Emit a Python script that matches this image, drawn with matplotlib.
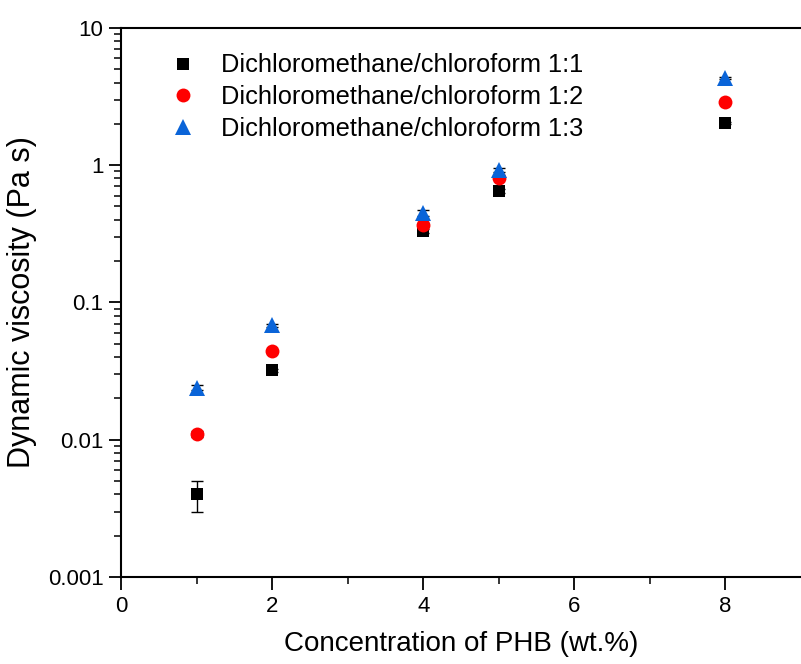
import matplotlib

matplotlib.use("Agg")
import matplotlib.pyplot as plt
from matplotlib.ticker import FixedLocator, LogLocator, NullFormatter

plt.rcParams["font.family"] = ["Liberation Sans", "DejaVu Sans"]

# data
conc = [1, 2, 4, 5, 8]
visc_11 = [0.004, 0.032, 0.332, 0.649, 2.03]
visc_12 = [0.011, 0.044, 0.367, 0.807, 2.89]
visc_13 = [0.024, 0.068, 0.449, 0.923, 4.32]
err_11 = [0.001, 0.001, 0.01, 0.02, 0.05]
err_12 = [0.0005, 0.001, 0.01, 0.02, 0.05]
err_13 = [0.001, 0.002, 0.02, 0.03, 0.08]
labels = [
    "Dichloromethane/chloroform 1:1",
    "Dichloromethane/chloroform 1:2",
    "Dichloromethane/chloroform 1:3",
]

fig = plt.figure(figsize=(8.01, 6.64), dpi=100)
ax = fig.add_axes([0.151, 0.131, 0.849, 0.827])

series = [
    (visc_11, err_11, "s", "black", 9),
    (visc_12, err_12, "o", "#ff0000", 10),
    (visc_13, err_13, "^", "#0a64d8", 11),
]
for (vals, errs, mk, col, ms), lab in zip(series, labels):
    ax.errorbar(
        conc, vals, yerr=errs, fmt="none", ecolor="black",
        elinewidth=1, capsize=4, capthick=1, zorder=2,
    )
    ax.plot(conc, vals, mk, color=col, markersize=ms,
            markeredgewidth=0, label=lab, zorder=3)

ax.set_yscale("log")
ax.set_xlim(0, 9)
ax.set_ylim(0.001, 10)

ax.xaxis.set_major_locator(FixedLocator([0, 2, 4, 6, 8]))
ax.xaxis.set_minor_locator(FixedLocator([1, 3, 5, 7]))
ax.yaxis.set_major_locator(FixedLocator([0.001, 0.01, 0.1, 1, 10]))
ax.yaxis.set_minor_locator(LogLocator(base=10, subs=range(2, 10), numticks=20))
ax.yaxis.set_minor_formatter(NullFormatter())
ax.set_yticklabels(["0.001", "0.01", "0.1", "1", "10"])

ax.tick_params(which="major", direction="out", length=9, width=1.3, labelsize=16)
ax.tick_params(which="minor", direction="out", length=5, width=1.1)
ax.tick_params(axis="x", pad=5)

for side in ["left", "bottom", "top"]:
    ax.spines[side].set_linewidth(1.5)
ax.spines["right"].set_visible(False)

ax.set_xlabel("Concentration of PHB (wt.%)", fontsize=20, labelpad=10)
ax.set_ylabel("Dynamic viscosity (Pa s)", fontsize=22, labelpad=8)

ax.legend(
    loc="upper left", bbox_to_anchor=(0.039, 0.972), frameon=False,
    fontsize=18.3, handletextpad=0.5, labelspacing=0.3, borderaxespad=0,
)

fig.savefig("out.png", dpi=100)
